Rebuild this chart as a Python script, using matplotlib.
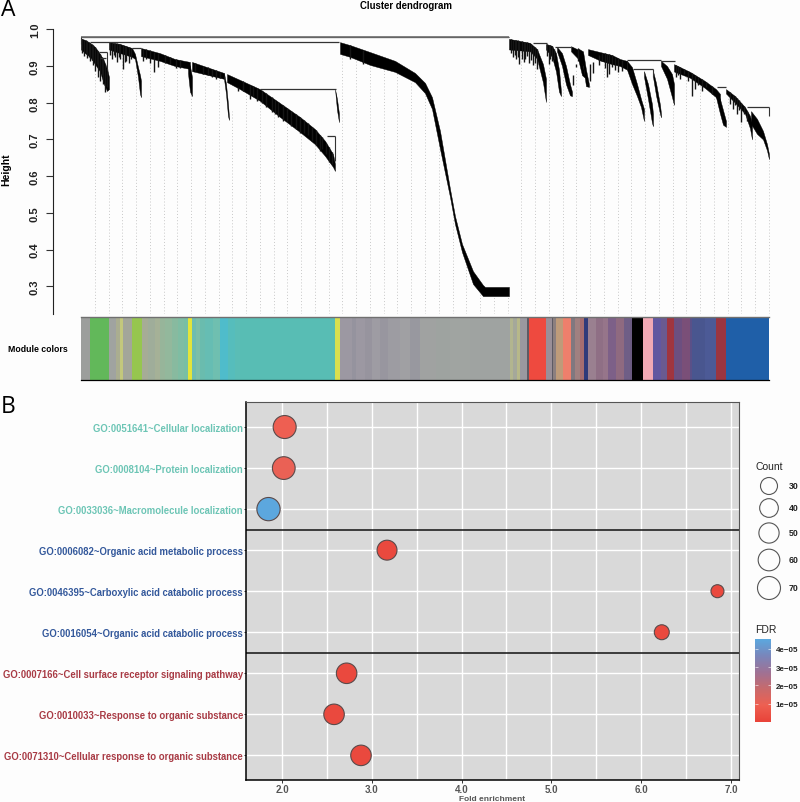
import numpy as np
import matplotlib
matplotlib.use("Agg")
import matplotlib.pyplot as plt
from matplotlib.colors import LinearSegmentedColormap

plt.rcParams['font.family'] = ['Liberation Sans', 'DejaVu Sans']

W, H = 800.0, 803.0

# ---- A: dendrogram, x = leaf position, values = merge height ----
left_1_x = [81, 85, 90, 95, 100, 104, 107, 109]
left_1_top = [.975, .971, .963, .952, .933, .914, .892, .870]
left_1_low = [.945, .935, .925, .905, .885, .850, .832, .837]
left_2_x = [109, 120, 132, 135, 138, 140, 141]
left_2_top = [.965, .960, .949, .933, .897, .875, .860]
left_2_low = [.945, .935, .925, .919, .870, .824, .815]
left_3_x = [141, 160, 175, 190]
left_3_top = [.949, .935, .919, .911]
left_3_low = [.927, .914, .900, .892]
drop_3_x = [188, 190, 192]
drop_3_top = [.911, .900, .870]
drop_3_low = [.880, .830, .818]
left_4_x = [192, 224]
left_4_top = [.911, .881]
left_4_low = [.886, .865]
drop_4_x = [224, 226, 228, 229]
drop_4_top = [.881, .851, .796, .760]
drop_4_low = [.865, .824, .764, .753]
left_5_x = [227, 240, 260, 280, 300, 315, 325, 333, 335]
left_5_top = [.878, .862, .837, .799, .761, .728, .696, .660, .633]
left_5_low = [.856, .837, .805, .761, .720, .687, .655, .625, .614]
drop_5_x = [335, 337, 339]
drop_5_top = [.837, .810, .770]
drop_5_low = [.837, .780, .747]
core_x = [340, 350, 370, 395, 415, 425, 432, 440, 450, 455, 462, 473, 483, 485, 509]
core_top = [.965, .957, .938, .914, .881, .854, .815, .723, .565, .491, .415, .341, .303, .298, .298]
core_low = [.933, .925, .903, .884, .856, .826, .783, .674, .543, .469, .393, .306, .273, .273, .273]
right_1_x = [509, 530, 537, 543, 546]
right_1_top = [.974, .963, .946, .905, .865]
right_1_low = [.945, .940, .920, .855, .802]
right_2_x = [546, 552, 556, 559, 561]
right_2_top = [.960, .955, .935, .890, .830]
right_2_low = [.945, .925, .885, .830, .818]
right_2b_x = [557, 562, 566, 570, 572]
right_2b_top = [.952, .935, .900, .850, .830]
right_2b_low = [.940, .900, .850, .820, .818]
right_3_x = [571, 578, 582, 585]
right_3_top = [.954, .945, .910, .870]
right_3_low = [.940, .920, .875, .868]
right_3b_x = [578, 583, 586, 589]
right_3b_top = [.948, .940, .890, .850]
right_3b_low = [.925, .900, .845, .843]
right_4_x = [588, 600, 612, 620, 627]
right_4_top = [.946, .938, .930, .919, .914]
right_4_low = [.930, .915, .905, .900, .890]
right_5_x = [627, 632, 637, 641, 644]
right_5_top = [.914, .897, .851, .810, .783]
right_5_low = [.890, .851, .818, .788, .750]
right_6_x = [644, 648, 652, 653]
right_6_top = [.886, .851, .796, .769]
right_6_low = [.870, .810, .745, .736]
right_7_x = [653, 656, 660, 661]
right_7_top = [.886, .854, .794, .770]
right_7_low = [.870, .820, .770, .760]
right_8_x = [661, 667, 672, 674]
right_8_top = [.914, .900, .878, .851]
right_8_low = [.900, .865, .815, .794]
right_9_x = [674, 690, 705, 716, 720]
right_9_top = [.905, .884, .859, .837, .824]
right_9_low = [.885, .868, .840, .815, .800]
right_10_x = [716, 720, 723, 726]
right_10_top = [.832, .810, .780, .750]
right_10_low = [.815, .770, .740, .734]
right_11_x = [726, 735, 745, 750, 752]
right_11_top = [.837, .818, .788, .764, .742]
right_11_low = [.825, .800, .770, .730, .700]
right_12_x = [751, 757, 763, 767, 769]
right_12_top = [.777, .756, .723, .687, .660]
right_12_low = [.742, .715, .700, .670, .646]

branch_list = [
    (left_1_x, left_1_top, left_1_low), (left_2_x, left_2_top, left_2_low),
    (left_3_x, left_3_top, left_3_low), (drop_3_x, drop_3_top, drop_3_low),
    (left_4_x, left_4_top, left_4_low), (drop_4_x, drop_4_top, drop_4_low),
    (left_5_x, left_5_top, left_5_low), (drop_5_x, drop_5_top, drop_5_low),
    (core_x, core_top, core_low),
    (right_1_x, right_1_top, right_1_low), (right_2_x, right_2_top, right_2_low),
    (right_2b_x, right_2b_top, right_2b_low),
    (right_3_x, right_3_top, right_3_low), (right_3b_x, right_3b_top, right_3b_low),
    (right_4_x, right_4_top, right_4_low),
    (right_5_x, right_5_top, right_5_low), (right_6_x, right_6_top, right_6_low),
    (right_7_x, right_7_top, right_7_low), (right_8_x, right_8_top, right_8_low),
    (right_9_x, right_9_top, right_9_low), (right_10_x, right_10_top, right_10_low),
    (right_11_x, right_11_top, right_11_low), (right_12_x, right_12_top, right_12_low),
]

# small side branches hanging under the main bands
spike_x = [82, 84, 85.5, 87, 88.5, 90, 92, 93, 95, 97, 98, 100, 101.5, 103, 105, 107,
           110, 112, 114, 115, 117, 118.5, 120, 123, 125, 126, 129, 131,
           143, 146, 150, 154, 158, 165, 170, 176, 180,
           195, 203, 208, 212, 216, 220,
           238, 243, 250, 253, 257, 262, 266, 272, 275, 278, 283, 287, 291,
           296, 300, 304, 308, 312, 316, 320, 322, 326, 329, 332,
           350, 363,
           511, 513, 514.5, 516, 517.5, 519, 522, 523.5, 525, 527, 529, 531, 533, 535, 537,
           547, 548.5, 550, 552, 554, 573, 576, 578,
           590, 593, 596, 599, 602, 605, 607, 609, 612, 615, 618, 622,
           676, 678, 680, 684, 688, 692, 695, 698, 702, 706, 709, 712,
           730, 733, 735, 737, 739, 741, 744, 747]
spike_low = [.935, .927, .935, .922, .925, .914, .915, .903, .886, .905, .870, .859, .875, .851, .829, .843,
             .930, .919, .930, .925, .911, .925, .919, .892, .910, .914, .908, .919,
             .914, .920, .908, .884, .897, .908, .905, .894, .894,
             .886, .878, .875, .870, .865, .867,
             .832, .832, .810, .818, .805, .799, .788, .775, .769, .761, .750, .750, .736,
             .728, .717, .717, .712, .696, .685, .668, .674, .660, .638, .633,
             .918, .905,
             .935, .925, .930, .919, .925, .905, .919, .910, .919, .927, .908, .915, .903, .908, .892,
             .927, .905, .919, .914, .919, .875, .897, .914,
             .905, .911, .905, .903, .914, .895, .870, .878, .897, .890, .884, .886,
             .870, .875, .865, .878, .859, .818, .837, .848, .832, .843, .850, .824,
             .796, .783, .795, .769, .780, .747, .769, .750]

# connecting merges: x start, x end, height
merge_x0 = [81, 90, 260, 327, 533, 555, 627, 633, 717, 747, 661, 99, 100, 132]
merge_x1 = [509, 339, 336, 335, 547, 571, 661, 653, 726, 769, 675, 107, 106, 141]
merge_h = [.979, .965, .837, .709, .963, .952, .917, .892, .843, .788, .913, .938, .922, .949]
# vertical stems: x, height from, height to
stem_x = [335, 769, 653, 81, 107]
stem_h0 = [.709, .788, .892, .979, .938]
stem_h1 = [.640, .764, .870, .960, .890]

height_ticks = [1.0, 0.9, 0.8, 0.7, 0.6, 0.5, 0.4, 0.3]

# module colour strip
module_edges = [81, 90, 109, 116, 120, 123, 132, 142, 148, 155, 160, 165, 172, 178, 184, 188, 192,
                196, 200, 205, 213, 220, 228, 235, 240, 335, 340, 352, 356, 365, 372, 380, 388,
                400, 410, 420, 436, 450, 470, 510, 513, 517, 520, 527, 529, 546, 552, 553, 556,
                563, 571, 575, 580, 584, 588, 596, 603, 608, 616, 624, 630, 632, 643, 653, 661,
                667, 674, 682, 690, 692, 705, 716, 726, 769]
module_colors = ['#9c9e9c', '#62b85a', '#a0a3a0', '#aaad90', '#c3c87c', '#a3a69a', '#96c64f', '#a6ac96',
                 '#9fad9a', '#a5b197', '#97b59a', '#93b89c', '#88ba9f', '#7fbda3', '#78bfa4',
                 '#e4e53a', '#6fbdb0', '#7dbfa8', '#6abcae', '#66bdb3', '#6fbfb0', '#4fbccb', '#56bdbc',
                 '#5abdb6', '#58bdb4', '#d9df4e', '#9c98a2', '#95939e', '#9c98a2', '#97949e', '#9e9ca3',
                 '#98969f', '#9d9ca2', '#a0a0a3', '#98989f', '#a0a2a1', '#9ea3a0', '#a0a4a1', '#9fa3a1',
                 '#b2b58f', '#a5a89a', '#b7b889', '#9a98a0', '#5d5a64', '#ee4a3f', '#9a8f98', '#5d5a64',
                 '#8c7f7f', '#be9b7a', '#ee7f6c', '#80787f', '#a08080', '#a56d70', '#2f3a7a', '#9a8090',
                 '#8f6f85', '#96758a', '#7d6088', '#8f6a80', '#6f5e86', '#6a5a80', '#000000', '#f2a9b5',
                 '#6257a0', '#6a5a90', '#a0353f', '#6c4f80', '#7a4f78', '#5a5088', '#49568f', '#4c5a96',
                 '#9b3540', '#1f5fa8']

# ---- B: GO enrichment ----
go_terms = ['GO:0051641~Cellular localization', 'GO:0008104~Protein localization',
            'GO:0033036~Macromolecule localization', 'GO:0006082~Organic acid metabolic process',
            'GO:0046395~Carboxylic acid catabolic process', 'GO:0016054~Organic acid catabolic process',
            'GO:0007166~Cell surface receptor signaling pathway', 'GO:0010033~Response to organic substance',
            'GO:0071310~Cellular response to organic substance']
term_colors = ['#6cc5b5'] * 3 + ['#33589b'] * 3 + ['#a83a44'] * 3
fold_enrichment = [2.03, 2.02, 1.85, 3.17, 6.85, 6.23, 2.72, 2.58, 2.88]
go_count = [70, 68, 72, 48, 10, 19, 52, 52, 52]
fdr = [0.9e-5, 1.0e-5, 4.5e-5, 0.2e-5, 0.2e-5, 0.2e-5, 0.2e-5, 0.2e-5, 0.2e-5]
fold_ticks = [2.0, 3.0, 4.0, 5.0, 6.0, 7.0]
legend_counts = [30, 40, 50, 60, 70]
fdr_ticks = [1e-5, 2e-5, 3e-5, 4e-5]
fdr_tick_labels = ['1e\u221205', '2e\u221205', '3e\u221205', '4e\u221205']

fdr_cmap = LinearSegmentedColormap.from_list(
    'fdr', ['#e94339', '#ee6052', '#c86a6c', '#9f7295', '#7a86bb', '#5ba8df'])


def px_axes(x0, y0, x1, y1):
    # axes from reference pixel box (y measured from top)
    return fig.add_axes([x0 / W, 1 - y1 / H, (x1 - x0) / W, (y1 - y0) / H])


def px_text(x, y, s, **kw):
    fig.text(x / W, 1 - y / H, s, **kw)


def count_size(c):
    # bubble area grows linearly with Count, diameter in px -> points^2
    d = np.sqrt(289 + 6.0 * (np.asarray(c, dtype=float) - 30))
    return (d * 0.72) ** 2


fig = plt.figure(figsize=(W / 100, H / 100), dpi=100, facecolor='#fdfdfd')

# ---- panel A ----
ax = px_axes(53, 30.3, 780, 315)
ax.set_facecolor('none')
ax.set_xlim(53, 780)
ax.set_ylim(1 - (315 - 30.3) / 367, 1.0)
for s in ['top', 'right', 'bottom']:
    ax.spines[s].set_visible(False)
ax.spines['left'].set_linewidth(0.8)
ax.spines['left'].set_color('#222222')
ax.set_xticks([])
ax.set_yticks(height_ticks)
ax.set_yticklabels(['%.1f' % t for t in height_ticks], rotation=90, va='center',
                   fontsize=8, fontweight='bold', color='#222222')
ax.tick_params(axis='y', length=5, width=0.8, color='#333333', pad=4.5)

# top outline of tree, used for guides and spikes
all_x = np.concatenate([np.array(b[0], dtype=float) for b in branch_list])
all_top = np.concatenate([np.array(b[1]) for b in branch_list])
all_low = np.concatenate([np.array(b[2]) for b in branch_list])
order = np.argsort(all_x, kind='stable')
guide_x = 81 + 13.76 * np.arange(1, 51)
ax.vlines(guide_x, ax.get_ylim()[0], np.interp(guide_x, all_x[order], all_low[order]),
          colors='#c8c8c8', linewidth=0.7, linestyles=(0, (1, 2.2)), zorder=1)

for bx, btop, blow in branch_list:
    ax.fill_between(bx, blow, btop, color='black', linewidth=0.3, zorder=3)
spike_top = np.interp(spike_x, all_x[order], all_top[order])
ax.vlines(spike_x, spike_low, spike_top, colors='#151515', linewidth=1.0, zorder=3)
ax.hlines(merge_h, merge_x0, merge_x1, colors='#333333', linewidth=0.9, zorder=4)
ax.hlines(merge_h[0], merge_x0[0], merge_x1[0], colors='#707070', linewidth=1.2, zorder=4)
ax.vlines(stem_x, stem_h1, stem_h0, colors='#333333', linewidth=0.8, zorder=4)

# module colors
ax_m = px_axes(81, 317.7, 769, 381)
ax_m.set_xlim(81, 769)
ax_m.set_ylim(0, 1)
ax_m.bar(module_edges[:-1], 1, width=np.diff(module_edges), align='edge',
         color=module_colors, linewidth=0)
ax_m.set_xticks([])
ax_m.set_yticks([])
for s in ['left', 'right']:
    ax_m.spines[s].set_visible(False)
ax_m.spines['top'].set_color('#707070')
ax_m.spines['top'].set_linewidth(1.0)
ax_m.spines['bottom'].set_linewidth(0.9)

px_text(8, 350, 'Module colors', fontsize=6.3, fontweight='bold', va='center', ha='left')
px_text(406, 6, 'Cluster dendrogram', fontsize=6.9, fontweight='bold', va='center', ha='center')
px_text(6, 170, 'Height', fontsize=7.6, fontweight='bold', rotation=90, va='center', ha='center')
px_text(1, 10, 'A', fontsize=16.5, family='Open Sans', va='center', ha='left')
px_text(1, 407, 'B', fontsize=16.5, family='Open Sans', va='center', ha='left')

# ---- panel B ----
axb = px_axes(245.7, 403.4, 739, 781)
axb.set_facecolor('#d9d9d9')
axb.set_xlim(1.596, 7.09)
axb.set_ylim(0.4, 9.6)
row_y = np.arange(9, 0, -1)
axb.set_xticks(np.arange(2.0, 7.01, 0.5), minor=True)
axb.set_xticks(fold_ticks)
axb.set_xticklabels(['%.1f' % t for t in fold_ticks], fontsize=7, fontweight='bold', color='#555555')
axb.set_yticks(row_y)
axb.set_yticklabels(go_terms, fontsize=6.85, fontweight='bold')
for lab, c in zip(axb.get_yticklabels(), term_colors):
    lab.set_color(c)
axb.tick_params(axis='y', length=1.5, width=0.7, pad=0.5, color='#333333')
axb.tick_params(axis='x', which='major', length=1.8, width=0.7, pad=0.8, color='#333333')
axb.tick_params(axis='x', which='minor', length=0)
axb.grid(True, which='both', color='white', linewidth=1.0, zorder=1)
axb.set_axisbelow(True)
axb.hlines([3.5, 6.5], 1.596, 7.09, colors='#111111', linewidth=1.1, zorder=2)
axb.spines['left'].set_linewidth(1.1)
axb.spines['bottom'].set_linewidth(1.1)
axb.spines['top'].set_color('#555555')
axb.spines['right'].set_color('#555555')
axb.scatter(fold_enrichment, row_y, s=count_size(go_count), c=fdr, cmap=fdr_cmap, vmin=0, vmax=4.55e-5,
            edgecolors='#5a4a4a', linewidths=0.8, zorder=3)
px_text(492, 799.5, 'Fold enrichment', fontsize=6, fontweight='bold', color='#555555', va='center', ha='center')

# count legend
px_text(755, 467, 'Count', fontsize=7.5, va='center', ha='left', color='#222222')
ax_leg = px_axes(745, 475, 800, 605)
ax_leg.set_xlim(745, 800)
ax_leg.set_ylim(605, 475)
ax_leg.axis('off')
legend_y = [487, 509, 534, 561, 589]
ax_leg.scatter([769] * 5, legend_y, s=count_size(legend_counts), facecolors='#fdfdfd',
               edgecolors='#555555', linewidths=0.8)
for yy, c in zip(legend_y, legend_counts):
    ax_leg.text(789, yy, str(c), fontsize=6.3, fontweight='bold', va='center', ha='left', color='#222222')

# FDR colour bar
px_text(755, 630, 'FDR', fontsize=7.5, va='center', ha='left', color='#222222')
ax_c = px_axes(755, 640, 771, 722.7)
ax_c.imshow(np.linspace(4.55e-5, 0, 200).reshape(-1, 1), cmap=fdr_cmap, vmin=0, vmax=4.55e-5,
            aspect='auto', extent=[0, 1, 0, 4.55e-5])
ax_c.set_xticks([])
ax_c.yaxis.tick_right()
ax_c.set_yticks(fdr_ticks)
ax_c.set_yticklabels(fdr_tick_labels, fontsize=5.8, fontweight='bold', color='#222222')
ax_c.tick_params(axis='y', length=0, pad=3.5)
ax_c.hlines(fdr_ticks, 0, 0.2, colors='white', linewidth=0.4)
ax_c.hlines(fdr_ticks, 0.8, 1, colors='white', linewidth=0.4)
for s in ax_c.spines.values():
    s.set_visible(False)

fig.savefig('out.png', dpi=100, facecolor=fig.get_facecolor())
